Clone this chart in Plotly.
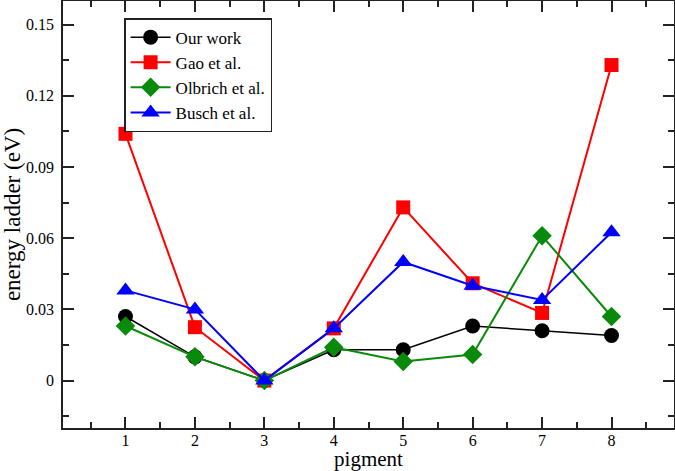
import plotly.graph_objects as go

pigments = [1, 2, 3, 4, 5, 6, 7, 8]
our_work = [0.027, 0.010, 0.000, 0.013, 0.013, 0.023, 0.021, 0.019]
gao = [0.104, 0.0225, 0.000, 0.022, 0.073, 0.041, 0.0285, 0.133]
olbrich = [0.023, 0.010, 0.000, 0.014, 0.008, 0.011, 0.061, 0.027]
busch = [0.038, 0.030, 0.000, 0.022, 0.050, 0.040, 0.034, 0.0625]

y_tickvals = [0, 0.03, 0.06, 0.09, 0.12, 0.15]
y_ticktext = ["0", "0.03", "0.06", "0.09", "0.12", "0.15"]
x_tickvals = [1, 2, 3, 4, 5, 6, 7, 8]

series = [
    ("Our work", our_work, "black", "circle", 15, 1.5),
    ("Gao et al.", gao, "#ff0000", "square", 14, 2),
    ("Olbrich et al.", olbrich, "#0a8a0a", "diamond", 15, 2),
    ("Busch et al.", busch, "#0000ff", "triangle-up", 16, 2),
]

fig = go.Figure()
for name, vals, color, sym, size, lw in series:
    fig.add_trace(go.Scatter(
        x=pigments, y=vals, name=name, mode="lines+markers",
        line=dict(color=color, width=lw),
        marker=dict(symbol=sym, size=size, color=color, line=dict(width=0)),
    ))

font_family = "'Liberation Serif', 'Times New Roman', Times, serif"
axis_common = dict(
    showline=True, linecolor="#222222", linewidth=1.5, mirror="allticks",
    ticks="inside", ticklen=11, tickwidth=1.5, tickcolor="#222222",
    showgrid=False, zeroline=False, automargin=False,
    tickfont=dict(family=font_family, size=16, color="black"),
)

fig.update_layout(
    template="none",
    width=675, height=471,
    margin=dict(l=63, r=1, t=1, b=43, pad=0),
    paper_bgcolor="white", plot_bgcolor="white",
    font=dict(family=font_family, color="black"),
    xaxis=dict(
        range=[0.1, 8.9], tickvals=x_tickvals,
        title=dict(text="pigment", font=dict(family=font_family, size=21), standoff=8),
        minor=dict(ticks="inside", ticklen=6, tickwidth=1.5, tickcolor="#222222", dtick=0.5, tick0=0.5),
        ticklabelstandoff=-3,
        **axis_common,
    ),
    yaxis=dict(
        range=[-0.02, 0.16], tickvals=y_tickvals, ticktext=y_ticktext,
        title=dict(text="energy ladder (eV)", font=dict(family=font_family, size=23), standoff=6),
        minor=dict(ticks="inside", ticklen=6, tickwidth=1.5, tickcolor="#222222", dtick=0.015, tick0=0),
        ticklabelstandoff=4,
        **axis_common,
    ),
    legend=dict(
        x=0.1, y=0.96, xanchor="left", yanchor="top",
        bordercolor="#222222", borderwidth=1.5, bgcolor="white",
        font=dict(family=font_family, size=17, color="black"),
        tracegroupgap=0, itemwidth=40,
    ),
    showlegend=True,
)

fig.write_html(
    "out.html",
    config={"displayModeBar": False},
    post_script="document.body.style.margin='0';document.body.style.overflow='hidden';",
)
